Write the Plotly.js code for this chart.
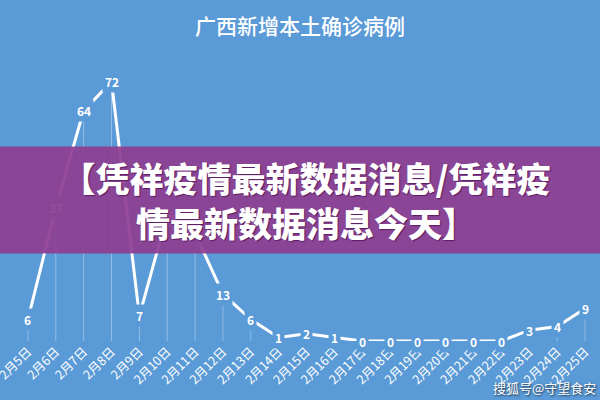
<!DOCTYPE html>
<html>
<head>
<meta charset="utf-8">
<script src="https://cdn.plot.ly/plotly-3.0.1.min.js"></script>
<style>html,body{margin:0;padding:0;background:#5a9ad6;}#chart{width:600px;height:400px;}</style>
</head>
<body>
<div id="chart"></div>
<script>
const dates = ["2月5日","2月6日","2月7日","2月8日","2月9日","2月10日","2月11日","2月12日","2月13日","2月14日","2月15日","2月16日","2月17日","2月18日","2月19日","2月20日","2月21日","2月22日","2月23日","2月24日","2月25日"];
const cases = [6,37,64,72,7,35,30,13,6,1,2,1,0,0,0,0,0,0,3,4,9];
const chartTitle = "广西新增本土确诊病例";
const bannerText = "【凭祥疫情最新数据消息/凭祥疫<br>情最新数据消息今天】";
const watermark = "搜狐号@守望食安";

const bg = "#5a9ad6";
const font = "Noto Sans CJK SC, Noto Sans, sans-serif";

const trace = {
  x: dates, y: cases, type: "scatter", mode: "lines",
  line: {color: "#ffffff", width: 3},
  error_y: {type: "data", symmetric: false, array: cases.map(() => 0), arrayminus: cases,
            color: "rgba(255,255,255,0.35)", thickness: 1, width: 0},
  hoverinfo: "none"
};

const labels = dates.map((d, i) => ({
  x: d, y: cases[i], xref: "x", yref: "y", text: "<b>" + cases[i] + "</b>",
  showarrow: false, bgcolor: bg, borderpad: 2,
  font: {family: font, size: 12, color: "#ffffff"}
}));

const banner = {
  xref: "paper", yref: "paper", x: (306 - 14) / 585, y: (341 - 200) / 288,
  xanchor: "center", yanchor: "middle", width: 612, height: 104,
  text: bannerText, showarrow: false, bgcolor: "rgba(142,62,146,0.93)",
  font: {family: font, size: 34, color: "#ffffff", weight: 900,
         shadow: "1px 1px 1px rgba(60,0,60,0.6)"}, align: "center"
};

const mark = {
  xref: "paper", yref: "paper", x: (598 - 14) / 585, y: (341 - 387) / 288,
  xanchor: "right", yanchor: "middle", text: watermark, showarrow: false,
  font: {family: font, size: 13, color: "#ffffff", shadow: "1px 1px 2px rgba(0,0,0,0.7)"}
};

const layout = {
  width: 600, height: 400,
  paper_bgcolor: bg, plot_bgcolor: bg,
  margin: {l: 14, r: 1, t: 53, b: 59},
  showlegend: false,
  title: {text: chartTitle, x: 0.5, xref: "container", y: 1 - 27/400, yref: "container", yanchor: "middle",
          font: {family: font, size: 21, color: "#ffffff", weight: 500}},
  xaxis: {type: "category", range: [-0.5, 20.5], showgrid: false, showline: false, zeroline: false,
          ticks: "", tickangle: -45, tickfont: {family: font, size: 12.5, color: "#ffffff"}},
  yaxis: {range: [0, 80], visible: false, showgrid: false, zeroline: false},
  annotations: labels.concat([banner, mark])
};

Plotly.newPlot("chart", [trace], layout, {displayModeBar: false, staticPlot: true});
</script>
</body>
</html>
